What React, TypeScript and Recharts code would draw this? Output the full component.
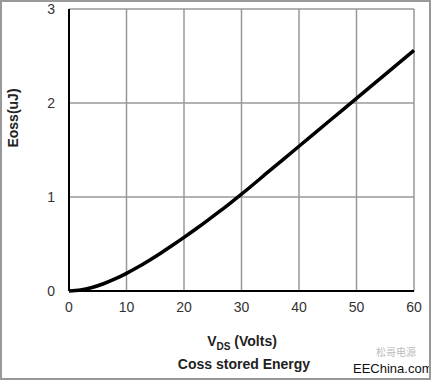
import { LineChart, Line, XAxis, YAxis, CartesianGrid } from 'recharts'

// Vds (V)
const vds = [0, 2, 4, 6, 8, 10, 12, 14, 16, 18, 20, 22, 24, 26, 28, 30, 35, 40, 45, 50, 55, 60]
// Eoss (uJ)
const eoss = [0, 0.01, 0.037, 0.077, 0.128, 0.188, 0.255, 0.328, 0.405, 0.486, 0.57, 0.657, 0.746, 0.838, 0.933, 1.03, 1.285, 1.54, 1.795, 2.05, 2.305, 2.56]

const xTicks = [0, 10, 20, 30, 40, 50, 60]
const yTicks = [0, 1, 2, 3]

const data = vds.map((v, i) => ({ vds: v, eoss: eoss[i] }))

const font = 'Arial, "Liberation Sans", sans-serif'
const tickStyle = { fontSize: 14, fill: '#333', fontFamily: font }

export default function App() {
  return (
    <div
      style={{
        position: 'absolute',
        left: 0,
        top: 0,
        width: 431,
        height: 380,
        background: '#fff',
        fontFamily: font,
      }}
    >
      <LineChart width={431} height={380} data={data} margin={{ top: 9, right: 17, bottom: 59, left: 29 }}>
        <CartesianGrid stroke="#999" strokeWidth={1.5} />
        <XAxis
          dataKey="vds"
          type="number"
          domain={[0, 60]}
          ticks={xTicks}
          height={30}
          tickLine={false}
          tickSize={0}
          tickMargin={11}
          axisLine={{ stroke: '#000', strokeWidth: 2 }}
          tick={tickStyle}
        />
        <YAxis
          type="number"
          domain={[0, 3]}
          ticks={yTicks}
          width={40}
          tickLine={false}
          tickSize={0}
          tickMargin={14}
          axisLine={{ stroke: '#000', strokeWidth: 2 }}
          tick={tickStyle}
        />
        <Line
          dataKey="eoss"
          type="monotone"
          stroke="#000"
          strokeWidth={3.5}
          dot={false}
          isAnimationActive={false}
        />
      </LineChart>

      <div
        style={{
          position: 'absolute',
          left: 13,
          top: 118,
          transform: 'translate(-50%, -50%) rotate(-90deg)',
          fontSize: 14,
          fontWeight: 'bold',
          color: '#222',
          whiteSpace: 'nowrap',
        }}
      >
        Eoss(uJ)
      </div>

      <div
        style={{
          position: 'absolute',
          left: 0,
          width: 484,
          top: 333,
          textAlign: 'center',
          fontSize: 14,
          fontWeight: 'bold',
          color: '#222',
        }}
      >
        V<sub style={{ fontSize: 10 }}>DS</sub> (Volts)
      </div>

      <div
        style={{
          position: 'absolute',
          left: 0,
          width: 488,
          top: 356,
          textAlign: 'center',
          fontSize: 14,
          fontWeight: 'bold',
          color: '#222',
        }}
      >
        Coss stored Energy
      </div>

      <div
        style={{
          position: 'absolute',
          left: 376,
          top: 347,
          fontSize: 10,
          lineHeight: '10px',
          color: '#bbb',
          fontFamily: '"Noto Sans CJK SC"',
        }}
      >
        松哥电源
      </div>
      <div style={{ position: 'absolute', left: 353, top: 362, fontSize: 13, lineHeight: '13px', color: '#111' }}>
        EEChina.com
      </div>

      <div
        style={{
          position: 'absolute',
          left: 0,
          top: 0,
          width: 431,
          height: 380,
          boxSizing: 'border-box',
          border: '2px solid #999',
          pointerEvents: 'none',
        }}
      />
    </div>
  )
}
